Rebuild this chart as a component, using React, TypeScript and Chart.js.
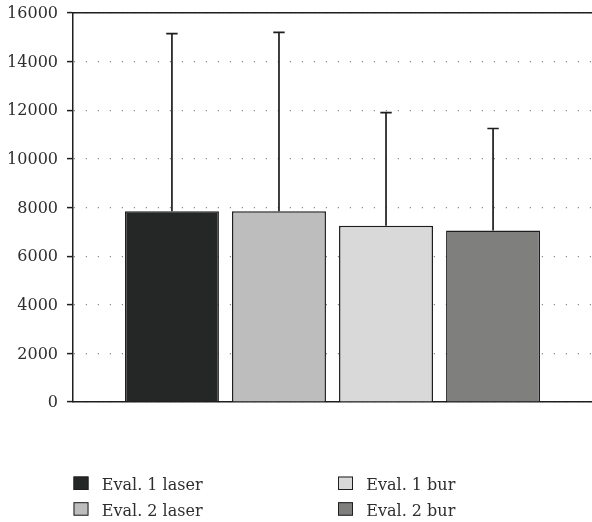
import React, { useEffect, useRef } from 'react';
import { Chart, registerables } from 'chart.js';

Chart.register(...registerables);

// ---- data ----
const groups = ['Eval. 1 laser', 'Eval. 2 laser', 'Eval. 1 bur', 'Eval. 2 bur'];
const means = [7850, 7850, 7250, 7050];
const upperErrors = [15150, 15200, 11900, 11250];
const yMin = 0;
const yMax = 16000;
const yStep = 2000;

// ---- styles ----
const fillColors = ['#252726', '#bdbdbd', '#d9d9d9', '#7f7f7e'];
const FONT = "'DejaVu Serif', 'Liberation Serif', serif";
const TEXT = '#2e2e2e';
const INK = '#1e1e1e';

const errorBarPlugin = {
  id: 'errorBars',
  afterDatasetsDraw(chart: any) {
    const ctx = chart.ctx;
    const yScale = chart.scales.y;
    chart.data.datasets.forEach((ds: any, i: number) => {
      const meta = chart.getDatasetMeta(i);
      const bar = meta.data[0];
      if (!bar) return;
      const top = yScale.getPixelForValue(ds.errorTop);
      ctx.save();
      ctx.strokeStyle = INK;
      ctx.lineWidth = 1.7;
      ctx.beginPath();
      ctx.moveTo(bar.x, bar.y);
      ctx.lineTo(bar.x, top);
      ctx.moveTo(bar.x - 5.7, top);
      ctx.lineTo(bar.x + 5.7, top);
      ctx.stroke();
      ctx.restore();
    });
  },
};

const legendPlugin = {
  id: 'gridLegend',
  afterDraw(chart: any) {
    const ctx = chart.ctx;
    const colX = [73.5, 338];
    const rowBase = [490, 515.7];
    ctx.save();
    ctx.font = `16px ${FONT}`;
    ctx.textBaseline = 'alphabetic';
    chart.data.datasets.forEach((ds: any, i: number) => {
      const col = Math.floor(i / 2);
      const row = i % 2;
      const x = colX[col];
      const base = rowBase[row];
      ctx.fillStyle = ds.backgroundColor;
      ctx.fillRect(x, base - 13.5, 15, 13.5);
      ctx.strokeStyle = INK;
      ctx.lineWidth = 1;
      ctx.strokeRect(x + 0.5, base - 13, 14, 12.5);
      ctx.fillStyle = TEXT;
      ctx.fillText(ds.label, x + 28.3, base);
    });
    ctx.restore();
  },
};

export default function App() {
  const canvasRef = useRef<HTMLCanvasElement | null>(null);

  useEffect(() => {
    if (!canvasRef.current) return;
    const chart = new Chart(canvasRef.current, {
      type: 'bar',
      data: {
        labels: [''],
        datasets: groups.map((g, i) => ({
          label: g,
          data: [means[i]],
          errorTop: upperErrors[i],
          xAxisID: 'x',
          yAxisID: 'y',
          backgroundColor: fillColors[i],
          borderColor: INK,
          borderWidth: 1.5,
          categoryPercentage: 0.825,
          barPercentage: 0.878,
        })) as any,
      },
      options: {
        responsive: false,
        animation: false,
        devicePixelRatio: 1,
        layout: { padding: { top: 13, bottom: 120, left: 0, right: 0 } },
        plugins: {
          legend: { display: false },
          tooltip: { enabled: false },
          title: { display: false },
        },
        scales: {
          x: {
            type: 'category',
            position: 'bottom',
            display: true,
            ticks: { display: false },
            grid: { display: false, drawTicks: false },
            border: { display: true, color: INK, width: 1.5 },
          },
          xTop: {
            type: 'category',
            position: 'top',
            display: true,
            ticks: { display: false },
            grid: { display: false, drawTicks: false },
            border: { display: true, color: INK, width: 1.5 },
          },
          y: {
            min: yMin,
            max: yMax,
            afterFit(scale: any) {
              scale.width = 73;
              scale.paddingTop = 0;
              scale.paddingBottom = 0;
            },
            ticks: {
              stepSize: yStep,
              padding: 9,
              color: TEXT,
              labelOffset: 1,
              font: { family: FONT, size: 16 },
              callback: (v: any) => String(v),
            },
            grid: {
              drawTicks: true,
              tickLength: 6,
              tickColor: INK,
              tickWidth: 1.5,
              tickBorderDash: [],
              color: '#8a8a8a',
              lineWidth: 1.2,
            } as any,
            border: {
              display: true,
              color: INK,
              width: 1.5,
              dash: [1.2, 10.8],
              dashOffset: -0.3,
            },
          },
        },
      } as any,
      plugins: [errorBarPlugin, legendPlugin],
    });
    return () => chart.destroy();
  }, []);

  return (
    <div style={{ position: 'absolute', left: 0, top: 0, width: 592, height: 522, background: '#fff' }}>
      <canvas ref={canvasRef} width={592} height={522} style={{ display: 'block', width: 592, height: 522 }} />
    </div>
  );
}
